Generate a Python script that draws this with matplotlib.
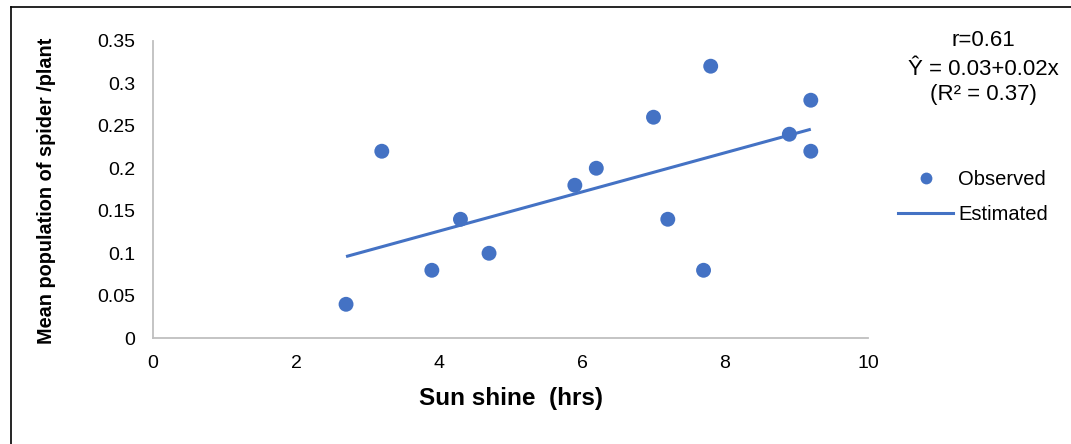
import numpy as np
import matplotlib
matplotlib.use("Agg")
import matplotlib.pyplot as plt
from matplotlib.lines import Line2D

plt.rcParams['font.family'] = ['Liberation Sans', 'DejaVu Sans']

# Data
sunshine_hrs = [2.7, 3.2, 3.9, 4.3, 4.7, 5.9, 6.2, 7.0, 7.2, 7.7, 7.8, 8.9, 9.2, 9.2]
spider_per_plant = [0.04, 0.22, 0.08, 0.14, 0.10, 0.18, 0.20, 0.26, 0.14, 0.08, 0.32, 0.24, 0.28, 0.22]
x_ticks = [0, 2, 4, 6, 8, 10]
y_ticks = [0, 0.05, 0.1, 0.15, 0.2, 0.25, 0.3, 0.35]
y_tick_labels = ["0", "0.05", "0.1", "0.15", "0.2", "0.25", "0.3", "0.35"]
stats_lines = ["r=0.61", "Ŷ = 0.03+0.02x", "(R² = 0.37)"]
legend_labels = ["Observed", "Estimated"]

BLUE = "#4472C4"
W, H = 1071, 444
fig = plt.figure(figsize=(W / 100, H / 100), dpi=100)
ax = fig.add_axes([153 / W, 1 - 338.3 / H, (868 - 153) / W, (338.3 - 40.7) / H])

x = np.array(sunshine_hrs)
y = np.array(spider_per_plant)
slope, intercept = np.polyfit(x, y, 1)
xf = np.array([x.min(), x.max()])
ax.plot(xf, intercept + slope * xf, color=BLUE, lw=2.2, solid_capstyle='butt', zorder=2)
ax.scatter(x, y, s=115, color=BLUE, edgecolors='none', zorder=3)

ax.set_xlim(0, 10)
ax.set_ylim(0, 0.35)
ax.set_xticks(x_ticks)
ax.set_xticklabels([str(t) for t in x_ticks])
ax.set_yticks(y_ticks)
ax.set_yticklabels(y_tick_labels)
ax.tick_params(axis='both', length=0, labelsize=14)
ax.tick_params(axis='y', pad=13)
ax.tick_params(axis='x', pad=12)
for s in ['top', 'right']:
    ax.spines[s].set_visible(False)
for s in ['left', 'bottom']:
    ax.spines[s].set_color('#BFBFBF')
    ax.spines[s].set_linewidth(1.3)

fig.text(511 / W, 1 - 398 / H, "Sun shine  (hrs)", ha='center', va='center',
         fontsize=17.5, fontweight='bold')
fig.text(47 / W, 1 - 191 / H, "Mean population of spider /plant", rotation=90,
         ha='center', va='center', fontsize=14.3, fontweight='bold')

for txt, yb in zip(stats_lines, [45.7, 75, 100]):
    fig.text(983 / W, 1 - yb / H, txt, ha='center', va='baseline', fontsize=16)

handles = [Line2D([], [], ls='none', marker='o', markersize=8.5, color=BLUE, markeredgewidth=0),
           Line2D([], [], color=BLUE, lw=2.2)]
fig.legend(handles, legend_labels, loc='upper left', bbox_to_anchor=(898 / W, 1 - 170 / H),
           frameon=False, fontsize=14.5, handlelength=2.74, handletextpad=0.26,
           labelspacing=0.78, borderpad=0, borderaxespad=0)

# outer border lines (left and top)
fig.add_artist(Line2D([10.5 / W, 10.5 / W], [0, 1 - 7 / H], color='black', lw=1.2, transform=fig.transFigure))
fig.add_artist(Line2D([10.5 / W, 1], [1 - 7 / H, 1 - 7 / H], color='black', lw=1.2, transform=fig.transFigure))

fig.savefig("out.png", dpi=100, facecolor='white')
